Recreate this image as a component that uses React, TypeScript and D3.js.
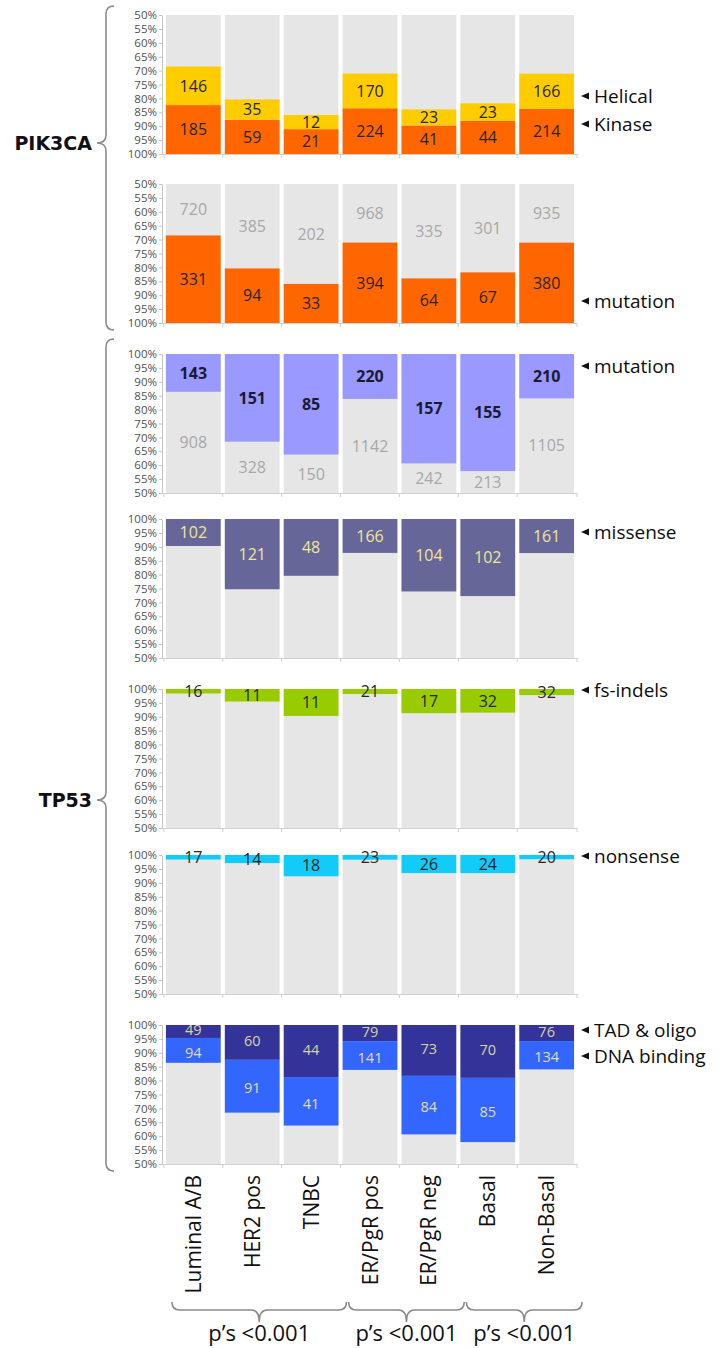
import React, { useEffect, useRef } from "react";
import * as d3 from "d3";

// Tumour subgroups (x categories)
const categories = ["Luminal A/B", "HER2 pos", "TNBC", "ER/PgR pos", "ER/PgR neg", "Basal", "Non-Basal"];

// PIK3CA counts
const pik3caHelical = [146, 35, 12, 170, 23, 23, 166];
const pik3caKinase = [185, 59, 21, 224, 41, 44, 214];
const pik3caMutation = [331, 94, 33, 394, 64, 67, 380];
const pik3caWildType = [720, 385, 202, 968, 335, 301, 935];

// TP53 counts
const tp53Mutation = [143, 151, 85, 220, 157, 155, 210];
const tp53WildType = [908, 328, 150, 1142, 242, 213, 1105];
const tp53Missense = [102, 121, 48, 166, 104, 102, 161];
const tp53FsIndels = [16, 11, 11, 21, 17, 32, 32];
const tp53FsIndelsPct = [1.6, 4.5, 9.7, 1.8, 8.7, 8.5, 2.2];
const tp53Nonsense = [17, 14, 18, 23, 26, 24, 20];
const tp53Tad = [49, 60, 44, 79, 73, 70, 76];
const tp53DnaBinding = [94, 91, 41, 141, 84, 85, 134];

// Axis ticks (percent)
const yTicks = [50, 55, 60, 65, 70, 75, 80, 85, 90, 95, 100];

// Subgroup comparisons
const groupRanges = [[0, 2], [3, 4], [5, 6]];
const groupPValues = ["p\u2019s <0.001", "p\u2019s <0.001", "p\u2019s <0.001"];

const totals = pik3caMutation.map((m, i) => m + pik3caWildType[i]);

const FONT = "'Open Sans', 'DejaVu Sans', sans-serif";
const GREY = "#e6e6e6";

type Segment = {
  counts: number[];
  pct?: number[];
  color: string;
  text: string;
  bold?: boolean;
  shift?: number;
};
type Note = { label: string; dy: number };
type Panel = {
  top: number;
  reversed: boolean;
  segments: Segment[];
  wild?: number[];
  notes: Note[];
  fontSize?: number;
};

const panels: Panel[] = [
  {
    top: 15,
    reversed: true,
    segments: [
      { counts: pik3caKinase, color: "#ff6600", text: "#262626" },
      { counts: pik3caHelical, color: "#ffcc00", text: "#262626" },
    ],
    notes: [
      { label: "Helical", dy: 81 },
      { label: "Kinase", dy: 109 },
    ],
  },
  {
    top: 184,
    reversed: true,
    segments: [{ counts: pik3caMutation, color: "#ff6600", text: "#262626" }],
    wild: pik3caWildType,
    notes: [{ label: "mutation", dy: 117 }],
  },
  {
    top: 354,
    reversed: false,
    segments: [{ counts: tp53Mutation, color: "#9999ff", text: "#1a1a33", bold: true }],
    wild: tp53WildType,
    notes: [{ label: "mutation", dy: 12 }],
  },
  {
    top: 519,
    reversed: false,
    segments: [{ counts: tp53Missense, color: "#666699", text: "#efe79a" }],
    notes: [{ label: "missense", dy: 13 }],
  },
  {
    top: 689,
    reversed: false,
    segments: [{ counts: tp53FsIndels, pct: tp53FsIndelsPct, color: "#99cc00", text: "#262626" }],
    notes: [{ label: "fs-indels", dy: 1 }],
  },
  {
    top: 855,
    reversed: false,
    segments: [{ counts: tp53Nonsense, color: "#11ccf8", text: "#262626" }],
    notes: [{ label: "nonsense", dy: 1 }],
  },
  {
    top: 1025,
    reversed: false,
    fontSize: 14.5,
    segments: [
      { counts: tp53Tad, color: "#333399", text: "#d8d4a0", shift: -1.5 },
      { counts: tp53DnaBinding, color: "#3366ff", text: "#e0dca6", shift: 2 },
    ],
    notes: [
      { label: "TAD & oligo", dy: 5 },
      { label: "DNA binding", dy: 31 },
    ],
  },
];

const PANEL_H = 139;

// Vertical curly brace opening to the right
function vBrace(x: number, tipX: number, y0: number, y1: number, ym: number, r: number) {
  return `M${x + r},${y0} Q${x},${y0} ${x},${y0 + r} L${x},${ym - r} Q${x},${ym} ${tipX},${ym} Q${x},${ym} ${x},${ym + r} L${x},${y1 - r} Q${x},${y1} ${x + r},${y1}`;
}

// Horizontal curly brace opening upward
function hBrace(x0: number, x1: number, y: number, tipY: number, r: number) {
  const xm = (x0 + x1) / 2;
  return `M${x0},${y - r} Q${x0},${y} ${x0 + r},${y} L${xm - r},${y} Q${xm},${y} ${xm},${tipY} Q${xm},${y} ${xm + r},${y} L${x1 - r},${y} Q${x1},${y} ${x1},${y - r}`;
}

export default function App() {
  const ref = useRef<SVGSVGElement>(null);

  useEffect(() => {
    const svg = d3.select(ref.current);
    svg.selectAll("*").remove();

    const x = d3
      .scaleBand<string>()
      .domain(categories)
      .range([163, 577])
      .paddingInner(0.07)
      .paddingOuter(0.05);
    const bw = x.bandwidth();
    const gap = x.step() - bw;

    panels.forEach((p) => {
      const g = svg.append("g");
      const bottom = p.top + PANEL_H;
      const fs = p.fontSize ?? 16;
      const y = d3
        .scaleLinear()
        .domain([50, 100])
        .range(p.reversed ? [p.top, bottom] : [bottom, p.top]);

      // grey full-height bars
      g.selectAll("rect.bg")
        .data(categories)
        .join("rect")
        .attr("x", (c) => x(c)!)
        .attr("y", p.top)
        .attr("width", bw)
        .attr("height", PANEL_H)
        .attr("fill", GREY);

      // coloured stacked segments, growing from the 100% edge
      const cum = categories.map(() => 0);
      p.segments.forEach((s) => {
        const shares = categories.map((_, i) =>
          s.pct ? s.pct[i] : (s.counts[i] / totals[i]) * 100
        );
        const spans = shares.map((sh, i) => {
          const b = 100 - cum[i];
          const a = b - sh;
          cum[i] += sh;
          return [a, b];
        });
        g.selectAll(null)
          .data(categories)
          .join("rect")
          .attr("x", (c) => x(c)!)
          .attr("y", (_, i) => Math.min(y(spans[i][0]), y(spans[i][1])))
          .attr("width", bw)
          .attr("height", (_, i) => Math.abs(y(spans[i][0]) - y(spans[i][1])))
          .attr("fill", s.color);
        g.selectAll(null)
          .data(categories)
          .join("text")
          .attr("x", (c) => x(c)! + bw / 2)
          .attr("y", (_, i) => (y(spans[i][0]) + y(spans[i][1])) / 2 + (s.shift ?? 0))
          .attr("dy", "0.36em")
          .attr("text-anchor", "middle")
          .attr("font-family", FONT)
          .attr("font-size", fs)
          .attr("font-weight", s.bold ? 700 : 400)
          .attr("fill", s.text)
          .text((_, i) => s.counts[i]);
      });

      // wild-type counts in the grey part
      if (p.wild) {
        const wild = p.wild;
        g.selectAll(null)
          .data(categories)
          .join("text")
          .attr("x", (c) => x(c)! + bw / 2)
          .attr("y", (_, i) => (y(50) + y(100 - cum[i])) / 2)
          .attr("dy", "0.36em")
          .attr("text-anchor", "middle")
          .attr("font-family", FONT)
          .attr("font-size", fs)
          .attr("fill", "#a8a8a8")
          .text((_, i) => wild[i]);
      }

      // value axis
      const ax = g
        .append("g")
        .attr("transform", "translate(162,0)")
        .call(
          d3
            .axisLeft(y)
            .tickValues(yTicks)
            .tickFormat((d) => `${d}%`)
            .tickSize(3)
            .tickSizeOuter(0)
        );
      ax.select(".domain").attr("stroke", "#c4c4c4");
      ax.selectAll(".tick line").attr("stroke", "#c4c4c4");
      ax.selectAll(".tick text")
        .attr("font-family", FONT)
        .attr("font-size", 11.5)
        .attr("fill", "#505050")
        .attr("x", -5);

      // category axis line with ticks between bars
      g.append("line")
        .attr("x1", 162)
        .attr("x2", 577)
        .attr("y1", bottom + 0.5)
        .attr("y2", bottom + 0.5)
        .attr("stroke", "#d0d0d0");
      const tickXs = categories.map((c) => x(c)! - gap / 2).concat([577]);
      g.selectAll(null)
        .data(tickXs)
        .join("line")
        .attr("x1", (d) => d)
        .attr("x2", (d) => d)
        .attr("y1", bottom)
        .attr("y2", bottom + 4)
        .attr("stroke", "#d0d0d0");

      // series notes on the right
      p.notes.forEach((n) => {
        const ny = p.top + n.dy;
        g.append("path")
          .attr("d", `M581,${ny} L589,${ny - 3.5} L589,${ny + 3.5} Z`)
          .attr("fill", "#111");
        g.append("text")
          .attr("x", 594)
          .attr("y", ny)
          .attr("dy", "0.35em")
          .attr("font-family", FONT)
          .attr("font-size", 19)
          .attr("fill", "#0d0d0d")
          .text(n.label);
      });
    });

    // gene braces and names on the left
    const genes = [
      { name: "PIK3CA", y0: 6, y1: 330, ym: 143 },
      { name: "TP53", y0: 339, y1: 1171, ym: 800 },
    ];
    genes.forEach((gn) => {
      svg
        .append("path")
        .attr("d", vBrace(106, 97, gn.y0, gn.y1, gn.ym, 8))
        .attr("fill", "none")
        .attr("stroke", "#8a8a8a")
        .attr("stroke-width", 1.6);
      svg
        .append("text")
        .attr("x", 92)
        .attr("y", gn.ym)
        .attr("dy", "0.36em")
        .attr("text-anchor", "end")
        .attr("font-family", "'DejaVu Sans', sans-serif")
        .attr("font-weight", 700)
        .attr("font-size", 19)
        .attr("fill", "#111")
        .text(gn.name);
    });

    // rotated category labels
    svg
      .selectAll(null)
      .data(categories)
      .join("text")
      .attr("transform", (c) => `translate(${x(c)! + bw / 2},1175) rotate(-90)`)
      .attr("dy", "0.36em")
      .attr("text-anchor", "end")
      .attr("font-family", FONT)
      .attr("font-size", 21)
      .attr("fill", "#111")
      .text((c) => c);

    // group braces with p-values
    groupRanges.forEach(([a, b], i) => {
      const x0 = x(categories[a])! + 6;
      const x1 = x(categories[b])! + bw + 8;
      svg
        .append("path")
        .attr("d", hBrace(x0, x1, 1310, 1322, 8))
        .attr("fill", "none")
        .attr("stroke", "#8a8a8a")
        .attr("stroke-width", 1.6);
      svg
        .append("text")
        .attr("x", (x0 + x1) / 2)
        .attr("y", 1341)
        .attr("text-anchor", "middle")
        .attr("font-family", FONT)
        .attr("font-size", 22)
        .attr("fill", "#111")
        .text(groupPValues[i]);
    });
  }, []);

  return (
    <div style={{ position: "absolute", left: 0, top: 0 }}>
      <svg ref={ref} width={721} height={1348} style={{ display: "block", background: "#fff" }} />
    </div>
  );
}
